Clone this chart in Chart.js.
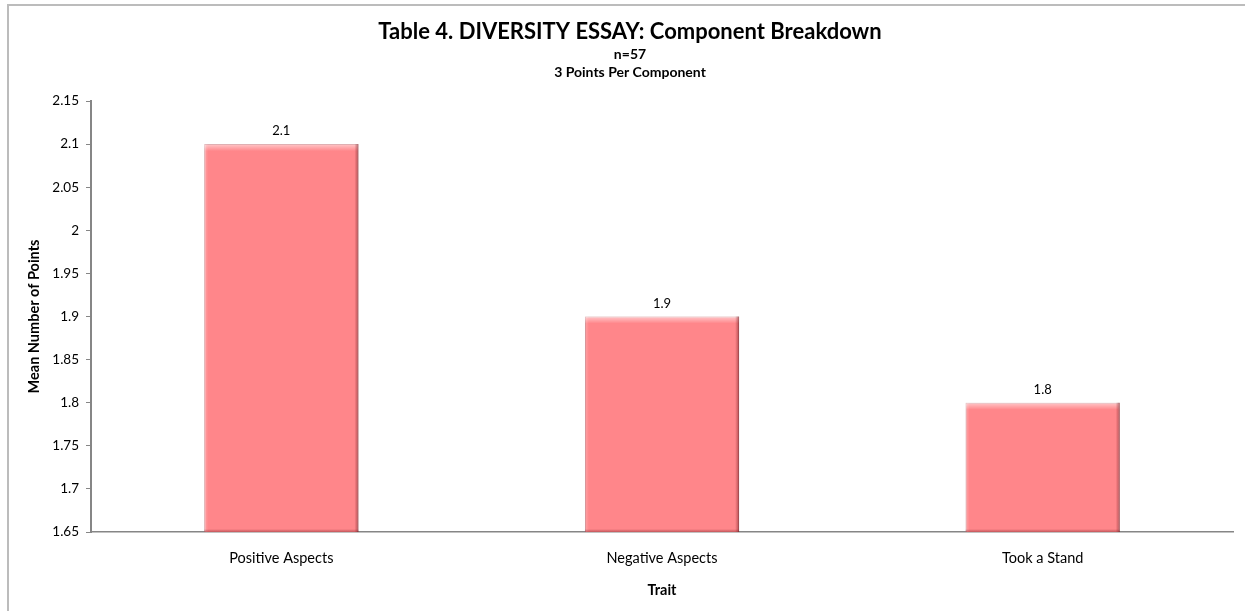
<!DOCTYPE html>
<html>
<head>
<meta charset="utf-8">
<script src="https://cdn.jsdelivr.net/npm/chart.js@4/dist/chart.umd.min.js"></script>
<style>
  html, body { margin: 0; padding: 0; background: #fff; }
  #wrap { position: relative; width: 1245px; height: 611px; overflow: hidden; }
  #frame { position: absolute; left: 7px; top: 4px; width: 1400px; height: 800px;
           border-top: 2px solid #bcbcbc; border-left: 2px solid #bcbcbc; }
  canvas { position: absolute; left: 0; top: 0; }
</style>
</head>
<body>
<div id="wrap">
  <div id="frame"></div>
  <canvas id="chart" width="1245" height="611"></canvas>
</div>
<script>
// Component breakdown of the diversity essay scores
const categories = ['Positive Aspects', 'Negative Aspects', 'Took a Stand'];
const meanPoints = [2.1, 1.9, 1.8];
const yMin = 1.65;
const yMax = 2.15;
const yStep = 0.05;

const FONT = 'Lato, "Open Sans", sans-serif';

const titleLines = [
  { text: 'Table 4. DIVERSITY ESSAY: Component Breakdown', font: 'bold 22px ' + FONT, y: 32 },
  { text: 'n=57', font: 'bold 14px ' + FONT, y: 54 },
  { text: '3 Points Per Component', font: 'bold 14px ' + FONT, y: 72 }
];

// Title block drawn above the plot
const titleBlock = {
  id: 'titleBlock',
  afterDraw(chart) {
    const ctx = chart.ctx;
    ctx.save();
    ctx.fillStyle = '#000';
    ctx.textAlign = 'center';
    ctx.textBaseline = 'middle';
    titleLines.forEach(l => {
      ctx.font = l.font;
      ctx.fillText(l.text, 630, l.y);
    });
    ctx.restore();
  }
};

// Bevelled edges and value labels on each bar
const barDecor = {
  id: 'barDecor',
  afterDatasetsDraw(chart) {
    const ctx = chart.ctx;
    const area = chart.chartArea;
    const meta = chart.getDatasetMeta(0);
    ctx.save();
    meta.data.forEach((bar, i) => {
      const { x, y, base, width } = bar.getProps(['x', 'y', 'base', 'width'], true);
      const l = x - width / 2, r = x + width / 2, t = y, b = Math.min(base, area.bottom);
      // top highlight
      let g = ctx.createLinearGradient(0, t, 0, t + 7);
      g.addColorStop(0, 'rgba(255,255,255,0.55)');
      g.addColorStop(1, 'rgba(255,255,255,0)');
      ctx.fillStyle = g;
      ctx.fillRect(l, t, width, 7);
      // left highlight
      g = ctx.createLinearGradient(l, 0, l + 4, 0);
      g.addColorStop(0, 'rgba(255,255,255,0.25)');
      g.addColorStop(1, 'rgba(255,255,255,0)');
      ctx.fillStyle = g;
      ctx.fillRect(l, t, 4, b - t);
      // right shade
      g = ctx.createLinearGradient(r - 4, 0, r, 0);
      g.addColorStop(0, 'rgba(120,30,35,0)');
      g.addColorStop(1, 'rgba(120,30,35,0.55)');
      ctx.fillStyle = g;
      ctx.fillRect(r - 4, t, 4, b - t);
      // bottom shade
      g = ctx.createLinearGradient(0, b - 3, 0, b);
      g.addColorStop(0, 'rgba(120,30,35,0)');
      g.addColorStop(1, 'rgba(120,30,35,0.45)');
      ctx.fillStyle = g;
      ctx.fillRect(l, b - 3, width, 3);
      // value label
      ctx.fillStyle = '#000';
      ctx.font = '13px ' + FONT;
      ctx.textAlign = 'center';
      ctx.textBaseline = 'middle';
      ctx.fillText(String(meanPoints[i]), x, t - 13);
    });
    ctx.restore();
  }
};

new Chart(document.getElementById('chart'), {
  type: 'bar',
  data: {
    labels: categories,
    datasets: [{
      data: meanPoints,
      backgroundColor: 'rgb(255,134,138)',
      borderColor: 'rgba(190,90,95,0.9)',
      borderWidth: 1,
      borderSkipped: false,
      categoryPercentage: 1,
      barPercentage: 0.405
    }]
  },
  options: {
    responsive: false,
    animation: false,
    devicePixelRatio: 1,
    layout: { padding: { top: 101, right: 12, bottom: 0, left: 0 } },
    plugins: {
      legend: { display: false },
      title: { display: false },
      tooltip: { enabled: false }
    },
    scales: {
      x: {
        afterFit(s) { s.height = 79; },
        grid: { display: false, drawTicks: false },
        border: { display: true, color: '#868686', width: 1.5 },
        ticks: { color: '#000', padding: 18, font: { family: FONT, size: 14.5 } },
        title: {
          display: true, text: 'Trait', color: '#000',
          font: { family: FONT, size: 14.5, weight: 'bold' },
          padding: { top: 0, bottom: 12 }
        }
      },
      y: {
        min: yMin, max: yMax,
        afterFit(s) { s.width = 91; },
        grid: { display: true, drawOnChartArea: false, drawTicks: true, tickLength: 5, color: '#868686', lineWidth: 1 },
        border: { display: true, color: '#868686', width: 2 },
        ticks: {
          stepSize: yStep, color: '#000', padding: 7,
          font: { family: FONT, size: 13.5 },
          callback: v => String(+v.toFixed(2))
        },
        title: {
          display: true, text: 'Mean Number of Points', color: '#000',
          font: { family: FONT, size: 14.5, weight: 'bold' },
          padding: { top: 26, bottom: 0 }
        }
      }
    }
  },
  plugins: [titleBlock, barDecor]
});
</script>
</body>
</html>
